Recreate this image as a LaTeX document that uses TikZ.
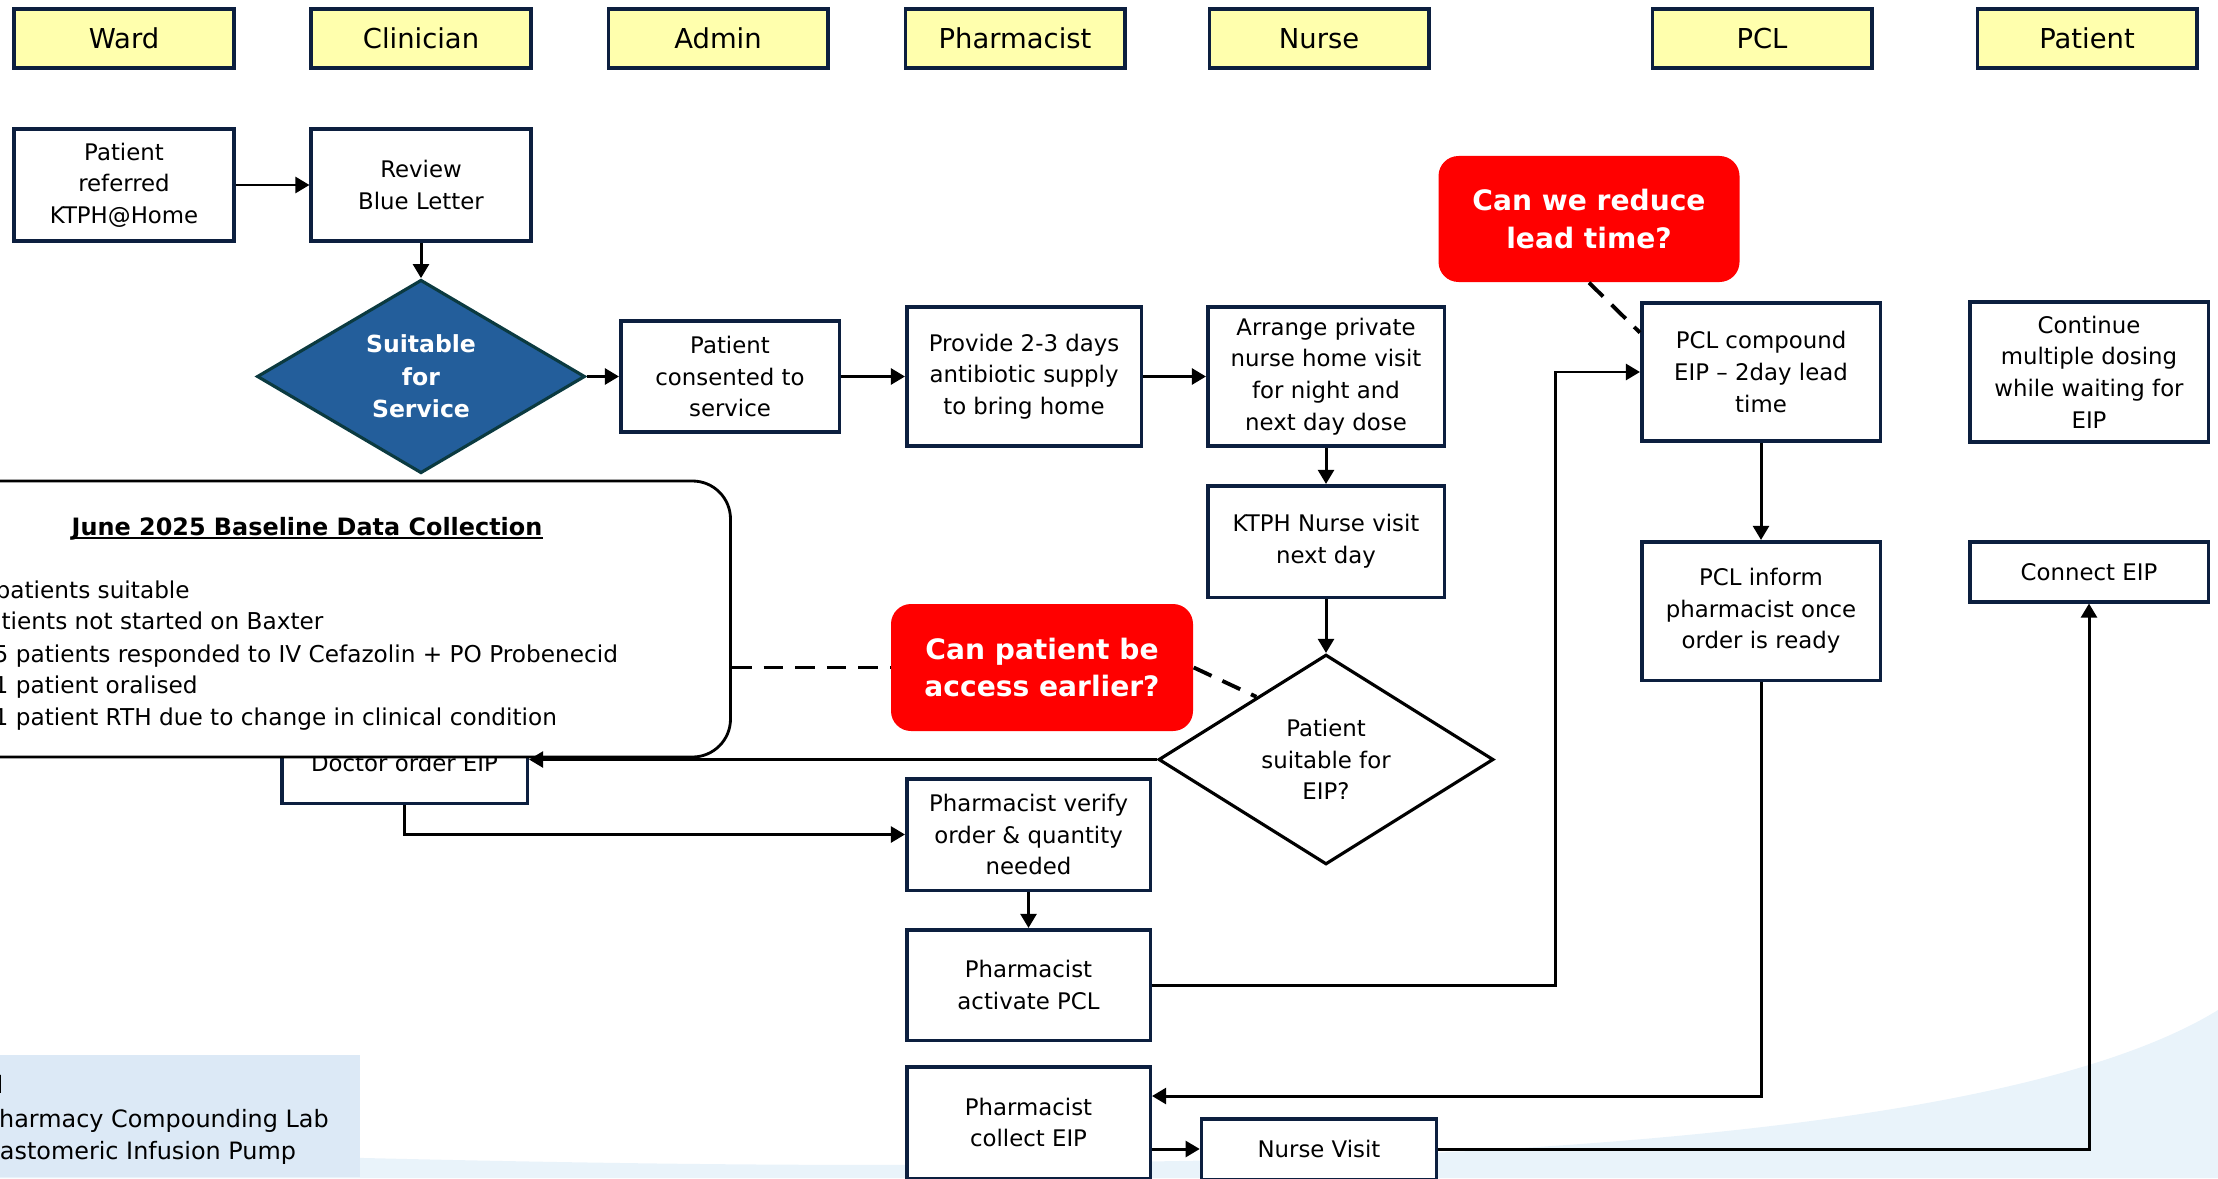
\documentclass[tikz,border=0pt]{standalone}
\usepackage{fontspec}
\setmainfont{DejaVu Sans}
\usepackage{tikz}
\usetikzlibrary{positioning,shapes.geometric,arrows.meta}

\definecolor{navy}{HTML}{0C1F3F}
\definecolor{lanefill}{HTML}{FFFFAD}
\definecolor{bluefill}{HTML}{235E9B}
\definecolor{bluedraw}{HTML}{0B3A40}
\definecolor{alertred}{HTML}{FF0000}
\definecolor{legendfill}{HTML}{DCE9F6}
\definecolor{swoosh}{HTML}{E9F3FA}

\begin{document}
\begin{tikzpicture}[auto,node distance=2.97cm]
  \tikzstyle{lane} = [draw=navy, line width=1pt, fill=lanefill, inner sep=0pt, minimum width=2.195cm, minimum height=0.595cm, font=\fontsize{7.8}{9}\selectfont]
  \tikzstyle{process} = [draw=navy, line width=1pt, fill=white, align=center, inner sep=0pt, minimum width=2.195cm, minimum height=1.125cm, font=\fontsize{6.5}{9}\selectfont]
  \tikzstyle{decision} = [diamond, draw, line width=0.9pt, fill=white, align=center, inner sep=0pt, minimum width=3.35cm, minimum height=1.92cm, font=\fontsize{6.5}{9}\selectfont]
  \tikzstyle{question} = [fill=alertred, rounded corners=0.2cm, text=white, align=center, inner sep=0pt, minimum width=3.01cm, minimum height=1.26cm, font=\bfseries\fontsize{8}{10.7}\selectfont]
  \tikzstyle{note} = [anchor=base west, inner sep=0pt, font=\fontsize{6.6}{9}\selectfont]
  \tikzstyle{flow} = [line width=0.85pt, -{Triangle[length=4pt,width=4.5pt]}]
  \tikzstyle{hint} = [line width=1.1pt, dash pattern=on 5.6pt off 3.4pt]

  \useasboundingbox (0,0) rectangle (22.18,-11.78);

  % background
  \fill[swoosh] (0,-11.48) .. controls (4,-11.6) and (8,-11.7) .. (11.08,-11.62)
    .. controls (17.5,-11.55) and (20.8,-10.95) .. (22.18,-10.1) -- (22.18,-11.78) -- (0,-11.78) -- cycle;
  \fill[legendfill] (0,-10.55) rectangle (3.6,-11.77);
  \node[anchor=base east, inner sep=0pt, font=\fontsize{6.8}{9}\selectfont] (legend) at (0.04,-10.93) {Legend};
  \node[note, font=\fontsize{6.8}{9}\selectfont] (pclname) at (-0.16,-11.27) {Pharmacy Compounding Lab};
  \node[note, font=\fontsize{6.8}{9}\selectfont] (eipname) at (-0.225,-11.59) {Elastomeric Infusion Pump};

  % lanes
  \node[lane] (ward) at (1.24,-0.385) {Ward};
  \node[lane] (clinician) [right of=ward] {Clinician};
  \node[lane] (admin) [right of=clinician] {Admin};
  \node[lane] (pharmacist) [right of=admin] {Pharmacist};
  \node[lane] (nurse) [right of=pharmacist, node distance=3.04cm] {Nurse};
  \node[lane] (pcl) [right of=nurse, node distance=4.43cm] {PCL};
  \node[lane] (patient) [right of=pcl, node distance=3.25cm] {Patient};

  % main flow
  \node[process] (referred) at (1.24,-1.85) {Patient\\referred\\KTPH@Home};
  \node[process] (review) [right of=referred] {Review\\Blue Letter};
  \node[decision, fill=bluefill, draw=bluedraw, text=white, minimum width=3.28cm, font=\bfseries\fontsize{6.7}{9.3}\selectfont] (suitable) [below of=review, node distance=1.915cm] {Suitable\\for\\Service};
  \node[process, minimum width=2.185cm, minimum height=1.115cm] (consent) [right of=suitable, node distance=3.09cm] {Patient\\consented to\\service};
  \node[process, minimum width=2.345cm, minimum height=1.395cm] (supply) [right of=consent, node distance=2.94cm] {Provide 2-3 days\\antibiotic supply\\to bring home};
  \node[process, minimum width=2.365cm, minimum height=1.395cm] (arrange) [right of=supply, node distance=3.02cm] {Arrange private\\nurse home visit\\for night and\\next day dose};
  \node[process, minimum width=2.365cm, minimum height=1.115cm] (ktph) [below of=arrange, node distance=1.65cm] {KTPH Nurse visit\\next day};
  \node[decision] (eipq) [below of=ktph, node distance=2.18cm] {Patient\\suitable for\\EIP?};

  \node[question] (reduce) at (15.89,-2.19) {Can we reduce\\lead time?};
  \node[process, minimum width=2.385cm, minimum height=1.385cm] (pclc) at (17.61,-3.72) {PCL compound\\EIP -- 2day lead\\time};
  \node[process, minimum width=2.385cm, minimum height=1.385cm] (pcli) [below of=pclc, node distance=2.39cm] {PCL inform\\pharmacist once\\order is ready};
  \node[process, minimum width=2.385cm, minimum height=1.395cm] (cont) [right of=pclc, node distance=3.28cm] {Continue\\multiple dosing\\while waiting for\\EIP};
  \node[process, minimum width=2.385cm, minimum height=0.595cm] (connect) [below of=cont, node distance=2.0cm] {Connect EIP};

  \node[process, minimum width=2.435cm, minimum height=1.115cm] (verify) at (10.285,-8.345) {Pharmacist verify\\order \& quantity\\needed};
  \node[process, minimum width=2.435cm, minimum height=1.105cm] (activate) [below of=verify, node distance=1.505cm] {Pharmacist\\activate PCL};
  \node[process, minimum width=2.435cm, minimum height=1.115cm] (collect) [below of=activate, node distance=1.375cm] {Pharmacist\\collect EIP};
  \node[process, minimum width=2.35cm, minimum height=0.605cm] (nursev) at (13.19,-11.49) {Nurse Visit};

  % baseline data box sits over the doctor box
  \node[process, minimum width=2.455cm, minimum height=0.815cm] (doctor) at (4.045,-7.625) {Doctor order EIP};
  \node[draw, line width=0.8pt, fill=white, rounded corners=0.38cm, minimum width=8.5cm, minimum height=2.76cm] (baseline) at (3.055,-6.19) {};
  \node[anchor=base, inner sep=0pt, font=\bfseries\fontsize{6.8}{9}\selectfont] (title) at (3.07,-5.35) {June 2025 Baseline Data Collection};
  \draw[line width=0.6pt] ([yshift=-0.9pt]title.base west) -- ([yshift=-0.9pt]title.base east);
  \node[note] (suitcount) at (-0.05,-5.98) {patients suitable};
  \node[note] (notstarted) at (-0.28,-6.29) {patients not started on Baxter};
  \node[note] (responded) at (-0.07,-6.62) {5 patients responded to IV Cefazolin + PO Probenecid};
  \node[note] (oralised) at (-0.07,-6.93) {1 patient oralised};
  \node[note] (rth) at (-0.07,-7.25) {1 patient RTH due to change in clinical condition};

  \node[question, minimum width=3.02cm, minimum height=1.27cm] (earlier) at (10.42,-6.675) {Can patient be\\access earlier?};

  \coordinate (jog) at (15.55,-9.85);
  \coordinate (back) at (17.61,-10.96);

  % connectors
  \draw[flow] (referred) -- (review);
  \draw[flow] (review) -- (suitable);
  \draw[flow] (suitable) -- (consent);
  \draw[flow] (consent) -- (supply);
  \draw[flow] (supply) -- (arrange);
  \draw[flow] (arrange) -- (ktph);
  \draw[flow] (ktph) -- (eipq);
  \draw[flow] (eipq.west) -- (eipq.west -| doctor.east);
  \draw[flow] (doctor.south) |- (verify.west);
  \draw[flow] (verify) -- (activate);
  \draw[flow] (activate.east) -| (jog |- pclc.west) -- (pclc.west);
  \draw[flow] (pclc) -- (pcli);
  \draw[flow] (pcli.south) |- (collect.east |- back);
  \draw[flow] (nursev.west -| collect.east) -- (nursev.west);
  \draw[flow] (nursev.east) -| (connect.south);

  \draw[hint] (reduce.south) -- (pclc.162);
  \draw[hint] (baseline.east |- earlier.west) -- (earlier.west);
  \draw[hint] (earlier.east) -- (eipq.138);
\end{tikzpicture}
\end{document}
